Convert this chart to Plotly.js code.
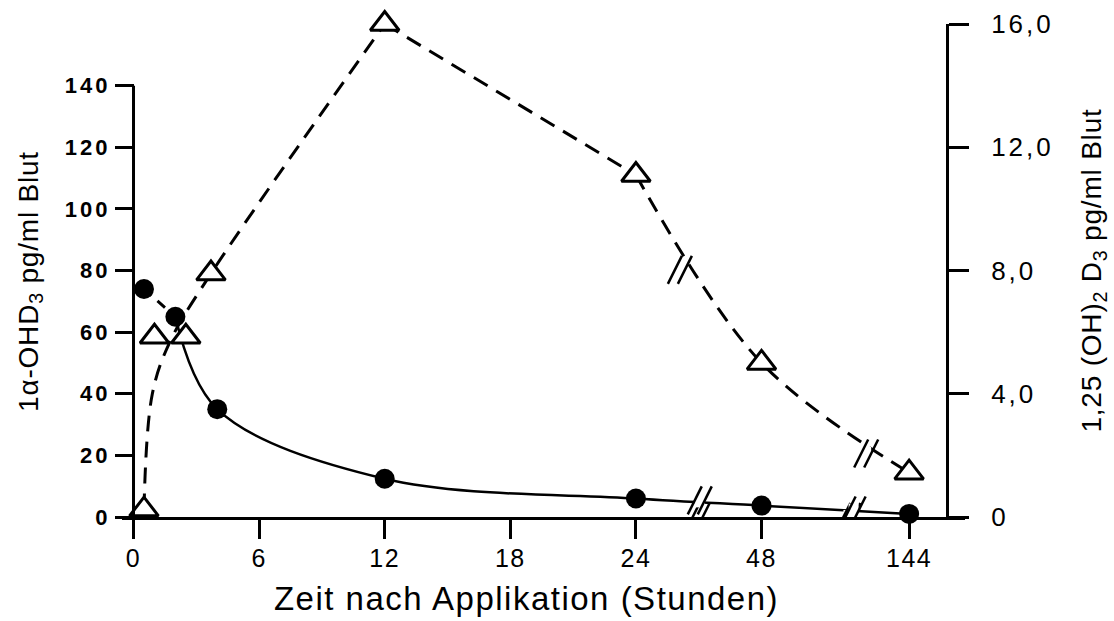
<!DOCTYPE html>
<html>
<head>
<meta charset="utf-8">
<script src="https://cdn.plot.ly/plotly-3.0.1.min.js"></script>
<style>html,body{margin:0;padding:0;background:#fff;}#chart{width:1114px;height:621px;}</style>
</head>
<body>
<div id="chart"></div>
<script>
// ---- data ----
// filled circles: 1α-OHD3 (left axis, pg/ml)
const ohdHours = [0.5, 2, 4, 12, 24, 48, 144];
const ohdValues = [74, 65, 35, 12.4, 6.0, 3.7, 1.0];

// open triangles: 1,25(OH)2D3 (right axis, pg/ml)
const d3Hours = [0.5, 1, 2.5, 3.7, 12, 24, 48, 144];
const d3Values = [0.24, 5.85, 5.85, 7.9, 16.0, 11.1, 5.0, 1.44];

// hand-drawn dashed curve for the triangles
const d3CurveHours = [0.5, 0.9, 1.75, 3.7, 12, 24, 48, 144];
const d3CurveValues = [0.24, 4.0, 5.7, 7.9, 16.0, 11.1, 5.0, 1.44];

// axis ticks
const xTickHours = [0, 6, 12, 18, 24, 48, 144];
const xTickLabels = ['0', '6', '12', '18', '24', '48', '144'];
const yTickValues = [0, 20, 40, 60, 80, 100, 120, 140];
const y2TickValues = [0, 4, 8, 12, 16];
const y2TickLabels = ['0', '4,0', '8,0', '12,0', '16,0'];

// broken time axis: hours -> axis position
const breakHours = [0, 24, 48, 144];
const breakPos = [0, 24, 30, 37.05];
function xpos(h) {
  for (let i = 1; i < breakHours.length; i++) {
    if (h <= breakHours[i]) {
      const t = (h - breakHours[i - 1]) / (breakHours[i] - breakHours[i - 1]);
      return breakPos[i - 1] + t * (breakPos[i] - breakPos[i - 1]);
    }
  }
  return breakPos[breakPos.length - 1];
}

// break symbols (axis position, left-axis value)
const breakMarks = [
  [26.95, 0], [34.15, 0],
  [27.05, 5.4], [34.4, 2.1],
  [26.1, 80.2], [35.0, 20.6]
];

const X = a => a.map(xpos);
const black = '#000';
const dashPat = '16px,10px';

const traces = [];
// circles: dashed first segment, solid smooth curve afterwards
traces.push({x: X(ohdHours.slice(0, 2)), y: ohdValues.slice(0, 2), mode: 'lines',
  line: {color: black, width: 3, dash: '10px,8px'}, yaxis: 'y', hoverinfo: 'skip'});
traces.push({x: X(ohdHours.slice(1)), y: ohdValues.slice(1), mode: 'lines',
  line: {color: black, width: 2.5, shape: 'spline', smoothing: 1}, yaxis: 'y', hoverinfo: 'skip'});
// triangles: dashed curve in three pieces
traces.push({x: X(d3CurveHours.slice(0, 5)), y: d3CurveValues.slice(0, 5), mode: 'lines',
  line: {color: black, width: 3, dash: dashPat, shape: 'spline', smoothing: 1}, yaxis: 'y2', hoverinfo: 'skip'});
traces.push({x: X(d3CurveHours.slice(4, 6)), y: d3CurveValues.slice(4, 6), mode: 'lines',
  line: {color: black, width: 3, dash: dashPat}, yaxis: 'y2', hoverinfo: 'skip'});
traces.push({x: X(d3CurveHours.slice(5)), y: d3CurveValues.slice(5), mode: 'lines',
  line: {color: black, width: 3, dash: dashPat, shape: 'spline', smoothing: 1}, yaxis: 'y2', hoverinfo: 'skip'});
// markers
traces.push({x: X(d3Hours), y: d3Values, mode: 'markers', yaxis: 'y2', cliponaxis: false,
  marker: {symbol: 'triangle-up', size: 25, color: '#fff', line: {color: black, width: 3}}});
traces.push({x: X(ohdHours), y: ohdValues, mode: 'markers', yaxis: 'y', cliponaxis: false,
  marker: {symbol: 'circle', size: 20, color: black, line: {width: 0}}});

const shapes = [];
// left axis line only up to 140
shapes.push({type: 'line', xref: 'x', yref: 'y', x0: 0, x1: 0, y0: 0, y1: 140,
  line: {color: black, width: 3}});
breakMarks.forEach(([px, py]) => {
  shapes.push({type: 'rect', xref: 'x', yref: 'y', xsizemode: 'pixel', ysizemode: 'pixel',
    xanchor: px, yanchor: py, x0: -5, x1: 5, y0: -7, y1: 7,
    fillcolor: '#fff', line: {width: 0}});
  [-5, 5].forEach(dx => {
    shapes.push({type: 'line', xref: 'x', yref: 'y', xsizemode: 'pixel', ysizemode: 'pixel',
      xanchor: px, yanchor: py, x0: dx - 7, x1: dx + 7, y0: -14, y1: 14,
      line: {color: black, width: 2.5}});
  });
});

const fontFam = '"Liberation Sans", Arial, Helvetica, sans-serif';
const layout = {
  width: 1114, height: 621,
  margin: {l: 122, r: 149, t: 24, b: 104, pad: 0},
  paper_bgcolor: '#fff', plot_bgcolor: '#fff',
  showlegend: false,
  font: {family: fontFam, color: black},
  xaxis: {
    range: [-0.55, 39.72], tickvals: X(xTickHours), ticktext: xTickLabels,
    ticks: 'outside', ticklen: 19, tickwidth: 3, tickcolor: black,
    showline: true, linewidth: 3, linecolor: black,
    showgrid: false, zeroline: false, ticklabelstandoff: -2,
    tickfont: {size: 25, family: fontFam},
    title: {text: 'Zeit nach Applikation (Stunden)', font: {size: 33, family: fontFam}, standoff: 16}
  },
  yaxis: {
    range: [0, 160], anchor: 'free', position: 0.0142,
    tickvals: yTickValues, ticktext: yTickValues.map(String),
    ticks: 'outside', ticklen: 19, tickwidth: 3, tickcolor: black,
    showline: false, showgrid: false, zeroline: false, ticklabelstandoff: 0,
    tickfont: {size: 22, family: fontFam, weight: 'bold'},
    title: {text: '1α-OHD<sub>3</sub> pg/ml Blut', font: {size: 28, family: fontFam}, standoff: 20}
  },
  yaxis2: {
    range: [0, 16], overlaying: 'y', side: 'right', anchor: 'free', position: 0.9786,
    tickvals: y2TickValues, ticktext: y2TickLabels,
    ticks: 'outside', ticklen: 20, tickwidth: 3, tickcolor: black,
    showline: true, linewidth: 3, linecolor: black,
    showgrid: false, zeroline: false, ticklabelstandoff: 17,
    tickfont: {size: 26, family: fontFam},
    title: {text: '1,25 (OH)<sub>2</sub> D<sub>3</sub> pg/ml Blut', font: {size: 28, family: fontFam}, standoff: 40}
  },
  shapes: shapes
};

Plotly.newPlot('chart', traces, layout, {displayModeBar: false, staticPlot: true}).then(gd => {
  // the printed figure uses a wide-set lettering
  const spacing = (sel, px) => gd.querySelectorAll(sel).forEach(t => { t.style.letterSpacing = px + 'px'; });
  spacing('.xtick text', 1.5);
  spacing('.ytick text', 3);
  spacing('.y2tick text', 3);
  spacing('.g-xtitle text', 1.5);
  spacing('.g-ytitle text', 0.8);
  spacing('.g-y2title text', 0.8);
  const xt = gd.querySelector('.g-xtitle');
  if (xt) xt.setAttribute('transform', 'translate(-17,0)');
  const yt = gd.querySelector('.g-ytitle');
  if (yt) yt.setAttribute('transform', 'translate(-6,11)');
});
</script>
</body>
</html>
